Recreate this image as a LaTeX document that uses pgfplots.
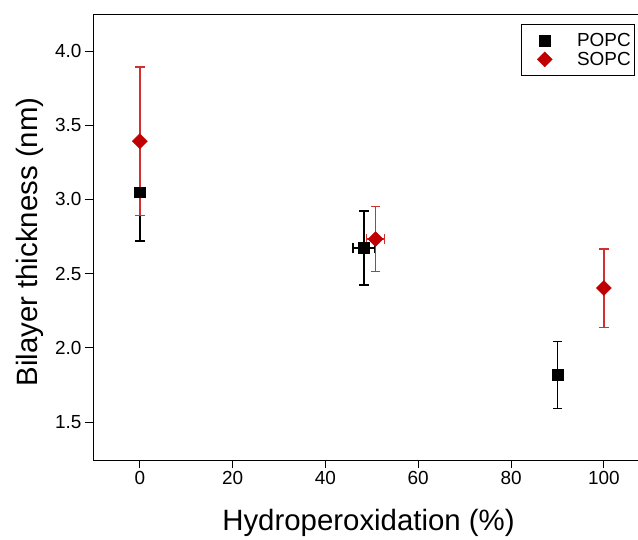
\documentclass[border=0pt]{standalone}
\usepackage{pgfplots}
\pgfplotsset{compat=1.18}
\usepackage{fontspec}
\setmainfont{Liberation Sans}
\definecolor{sred}{HTML}{C00000}
\definecolor{sredbar}{HTML}{D03030}
\definecolor{pbar}{HTML}{000000}
\begin{document}
\begin{tikzpicture}
\begin{axis}[
  scale only axis,
  width=560bp, height=446bp,
  xmin=-10.1, xmax=110.6,
  ymin=1.244, ymax=4.25,
  xtick={0,20,...,100},
  ytick={1.5,2.0,...,4.0},
  yticklabel style={/pgf/number format/.cd,fixed,fixed zerofill,precision=1},
  /pgf/number format/assume math mode=true,
  tick align=outside,
  xtick pos=bottom, ytick pos=left,
  major tick length=8bp,
  tick style={black, line width=0.8pt},
  axis line style={line width=0.9pt},
  tick label style={font=\fontsize{19}{22}\selectfont},
  xlabel={Hydroperoxidation (\%)},
  ylabel={Bilayer thickness (nm)},
  label style={font=\fontsize{29.5}{34}\selectfont},
  xlabel style={at={(axis description cs:0.4920,-0.1413)}, anchor=center},
  ylabel style={at={(axis description cs:-0.1125,0.4888)}, anchor=center},
  legend style={at={(axis description cs:0.9679,1)}, anchor=north east, yshift=-10bp,
    draw=black, line width=0.6pt,
    font=\fontsize{19}{22}\selectfont, row sep=0bp, inner xsep=2bp, inner ysep=7bp},
  legend cell align=left,
  legend image code/.code={\path (0bp,0bp) (51bp,0bp);
    \draw[#1] plot coordinates {(21bp,0bp)};},
]
\coordinate (ll) at (rel axis cs:0,0);
\addplot[only marks, mark=square*, mark size=5.3bp, draw=pbar, mark options={fill=black, draw=black, line width=0.4pt},
  error bars/.cd, y dir=both, y explicit, x dir=both, x explicit,
  error bar style={draw=pbar, line width=1.4pt}, error mark options={rotate=90, mark size=4.7bp, draw=pbar, line width=1.4pt}]
  coordinates {
  (0,3.05) +- (0,0.33)
  (48.3,2.673) +- (2.4,0.25)
  (90,1.818) +- (0,0.226)
  };
\addlegendentry{POPC}
\addplot[only marks, mark=square*, mark size=5.3bp, draw=sredbar, mark options={fill=sred, draw=sred, rotate=45, line width=0.4pt},
  error bars/.cd, y dir=both, y explicit, x dir=both, x explicit,
  error bar style={draw=sredbar, line width=1.4pt}, error mark options={rotate=90, mark size=4.7bp, draw=sredbar, line width=1.4pt}]
  coordinates {
  (0,3.393) +- (0,0.5)
  (50.8,2.733) +- (1.9,0.22)
  (100,2.403) +- (0,0.264)
  };
\addlegendentry{SOPC}
\end{axis}
\pgfresetboundingbox
\path ([shift={(-93bp,-80bp)}]ll) rectangle ([shift={(545bp,460bp)}]ll);
\end{tikzpicture}
\end{document}
